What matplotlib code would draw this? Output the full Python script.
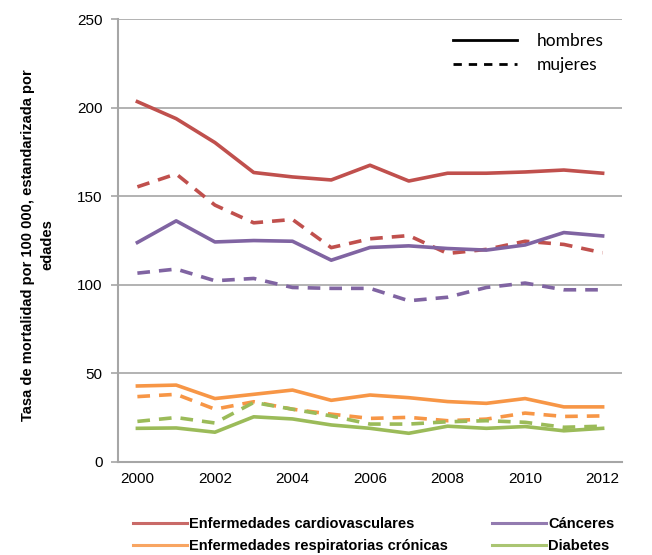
import matplotlib.pyplot as plt
from matplotlib.lines import Line2D

years = list(range(2000, 2013))

cardio_h = [203.4, 193.8, 180.3, 163.4, 160.9, 159.2, 167.5, 158.6, 163.0, 163.0, 163.7, 164.8, 163.0]
cardio_m = [155.3, 162.6, 145.0, 135.0, 136.9, 121.0, 126.0, 127.8, 117.7, 120.0, 124.6, 122.8, 118.1]
cancer_h = [123.9, 136.1, 124.2, 125.0, 124.6, 113.9, 121.1, 122.0, 120.5, 119.6, 122.5, 129.5, 127.6]
cancer_m = [106.6, 108.9, 102.3, 103.6, 98.5, 98.0, 98.0, 91.0, 93.0, 98.5, 101.0, 97.2, 97.2]
resp_h = [42.9, 43.4, 35.8, 38.2, 40.6, 34.8, 37.8, 36.3, 34.1, 33.1, 35.8, 31.1, 31.1]
resp_m = [36.9, 38.2, 29.8, 34.0, 29.8, 27.0, 24.6, 25.2, 23.3, 24.2, 27.6, 25.7, 26.0]
diab_h = [19.0, 19.2, 16.8, 25.5, 24.3, 20.9, 19.0, 16.2, 20.2, 19.0, 20.0, 17.6, 19.0]
diab_m = [22.9, 25.1, 22.0, 33.6, 29.8, 26.0, 21.4, 21.4, 22.7, 23.3, 22.4, 19.6, 20.2]

series = [
    ("Enfermedades cardiovasculares", "#C0504D", cardio_h, cardio_m),
    ("Cánceres", "#8064A2", cancer_h, cancer_m),
    ("Enfermedades respiratorias crónicas", "#F79646", resp_h, resp_m),
    ("Diabetes", "#9BBB59", diab_h, diab_m),
]

plt.rcParams['font.family'] = ['Liberation Sans', 'DejaVu Sans']

fig = plt.figure(figsize=(6.52, 5.55), dpi=100)
ax = fig.add_axes([0.181, 0.1676, 0.773, 0.798])

lw = 2.6
handles = {}
for name, col, h, m in series:
    ax.plot(years, m, color=col, lw=lw, ls=(0, (3.5, 2.5)), zorder=3)
    ax.plot(years, h, color=col, lw=lw, zorder=4)
    handles[name] = Line2D([], [], color=col, lw=2.2, alpha=0.85)

ax.set_xlim(1999.5, 2012.5)
ax.set_ylim(0, 250)
ax.set_yticks(range(0, 251, 50))
ax.set_xticks(range(2000, 2013, 2))
ax.grid(axis='y', color='#A6A6A6', lw=1.2)
ax.set_axisbelow(True)
for s in ['top', 'right']:
    ax.spines[s].set_visible(False)
ax.spines['left'].set_color('#A6A6A6')
ax.spines['left'].set_linewidth(1.5)
ax.spines['bottom'].set_color('#A6A6A6')
ax.spines['bottom'].set_linewidth(1.5)
ax.tick_params(axis='y', length=5, color='#A6A6A6', width=1.2, labelsize=11, pad=6)
ax.tick_params(axis='x', length=0, labelsize=11, pad=7)

ax.set_ylabel("Tasa de mortalidad por 100 000, estandarizada por\nedades",
              fontsize=10.5, fontweight='bold', linespacing=1.45)
ax.yaxis.set_label_coords(-0.127, 0.49)

sex_handles = [Line2D([], [], color='black', lw=2),
               Line2D([], [], color='black', lw=2, ls=(0, (3, 2.5)))]
fig.legend(sex_handles, ["hombres", "mujeres"], loc='upper left',
           bbox_to_anchor=(453 / 652, 1 - 33 / 555), frameon=False,
           borderpad=0, borderaxespad=0, handlelength=3.7,
           handletextpad=1.1, labelspacing=0.45,
           prop={'family': 'Lato', 'size': 12.5})

col1 = ["Enfermedades cardiovasculares", "Enfermedades respiratorias crónicas"]
col2 = ["Cánceres", "Diabetes"]
for names, x0 in [(col1, 133), (col2, 492)]:
    fig.legend([handles[n] for n in names], names, loc='upper left',
               bbox_to_anchor=(x0 / 652, 1 - 517 / 555), frameon=False,
               borderpad=0, borderaxespad=0,
               prop={'size': 10.5, 'weight': 'bold'},
               handlelength=3.7, handletextpad=0.15, labelspacing=0.55)

fig.savefig("out.png", dpi=100)
